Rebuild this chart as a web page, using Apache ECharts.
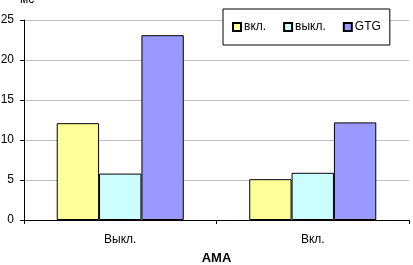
<!DOCTYPE html>
<html>
<head>
<meta charset="utf-8">
<script src="https://cdn.jsdelivr.net/npm/echarts@6/dist/echarts.min.js"></script>
<style>
  html, body { margin: 0; padding: 0; background: #fff; }
  #chart { width: 413px; height: 265px; }
</style>
</head>
<body>
<div id="chart"></div>
<script>
var categories = ['Выкл.', 'Вкл.'];
var seriesNames = ['вкл.', 'выкл.', 'GTG'];
var valsOn = [12.1, 5.1];
var valsOff = [5.8, 5.9];
var valsGtg = [23.1, 12.2];
var colors = ['#FFFF99', '#CCFFFF', '#9999FF'];

(function() {
  var chart = echarts.init(document.getElementById('chart'));
  var font = 'Liberation Sans, Arial, sans-serif';
  var data = [valsOn, valsOff, valsGtg];

  var option = {
    animation: false,
    textStyle: { fontFamily: font },
    legend: {
      left: 223,
      top: 9,
      padding: [12, 9, 12, 9],
      itemGap: 17,
      itemWidth: 8,
      itemHeight: 8,
      icon: 'rect',
      backgroundColor: '#fff',
      borderColor: '#000',
      borderWidth: 1,
      textStyle: { fontFamily: font, fontSize: 12, color: '#000', padding: [0, 0, 0, -2] },
      data: seriesNames
    },
    grid: { left: 24, right: 4, top: 20, bottom: 45, containLabel: false, outerBoundsMode: 'none' },
    xAxis: {
      type: 'category',
      data: categories,
      name: 'АМА',
      nameLocation: 'middle',
      nameGap: 32,
      nameTextStyle: { fontFamily: font, fontSize: 13, fontWeight: 'bold', color: '#000' },
      axisLine: { lineStyle: { color: '#000', width: 1 } },
      axisTick: { show: true, length: 4, lineStyle: { color: '#000' } },
      axisLabel: { fontFamily: font, fontSize: 12, color: '#000', margin: 14 }
    },
    yAxis: {
      type: 'value',
      min: 0,
      max: 25,
      interval: 5,
      name: 'мс',
      nameLocation: 'end',
      nameGap: 14,
      nameTextStyle: { fontFamily: font, fontSize: 12, color: '#000', padding: [0, 0, 0, 6] },
      axisLine: { show: true, lineStyle: { color: '#000', width: 1 } },
      axisTick: { show: true, length: 4, lineStyle: { color: '#000' } },
      axisLabel: { fontFamily: font, fontSize: 12, color: '#000', margin: 10 },
      splitLine: { lineStyle: { color: '#C0C0C0', width: 1 } }
    },
    series: seriesNames.map(function(name, i) {
      return {
        name: name,
        type: 'bar',
        data: data[i],
        barGap: '0%',
        barCategoryGap: '34%',
        itemStyle: { color: colors[i], borderColor: '#000', borderWidth: 1 }
      };
    })
  };
  chart.setOption(option);
})();
</script>
</body>
</html>
